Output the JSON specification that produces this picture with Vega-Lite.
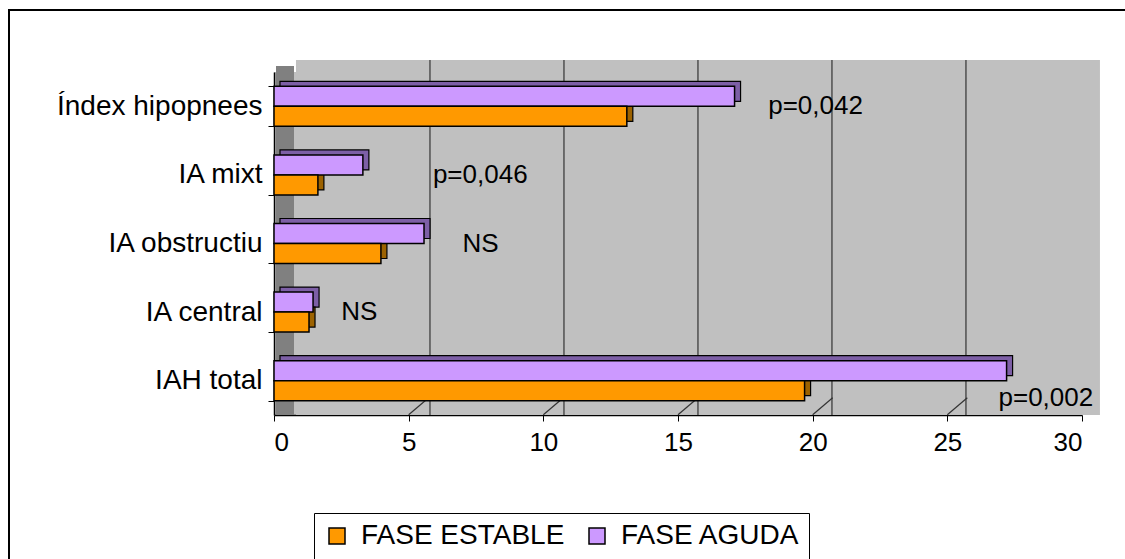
{
  "$schema": "https://vega.github.io/schema/vega-lite/v6.json",
  "width": 808,
  "height": 343,
  "autosize": {"type": "none"},
  "padding": {"left": 274, "top": 72, "right": 43, "bottom": 144},
  "background": "white",
  "config": {
    "view": {"fill": "#c0c0c0", "stroke": null},
    "font": "Liberation Sans",
    "axisY": {"title": null, "labelFontSize": 28, "labelLimit": 0, "labelColor": "black", "labelFont": "Liberation Sans", "domainColor": "black", "domainWidth": 1.5, "tickColor": "black", "tickSize": 6, "labelPadding": 6, "tickBand": "extent", "grid": false},
    "axisX": {"title": null, "labelFontSize": 26, "labelColor": "black", "labelFont": "Liberation Sans", "domainColor": "black", "domainWidth": 1.5, "tickColor": "black", "tickSize": 6, "labelPadding": 8, "grid": false}
  },
  "datasets": {
    "bars": [
      {"category": "Índex hipopnees", "series": "FASE AGUDA", "value": 17.1},
      {"category": "Índex hipopnees", "series": "FASE ESTABLE", "value": 13.1},
      {"category": "IA mixt", "series": "FASE AGUDA", "value": 3.3},
      {"category": "IA mixt", "series": "FASE ESTABLE", "value": 1.63},
      {"category": "IA obstructiu", "series": "FASE AGUDA", "value": 5.57},
      {"category": "IA obstructiu", "series": "FASE ESTABLE", "value": 3.97},
      {"category": "IA central", "series": "FASE AGUDA", "value": 1.45},
      {"category": "IA central", "series": "FASE ESTABLE", "value": 1.3},
      {"category": "IAH total", "series": "FASE AGUDA", "value": 27.2},
      {"category": "IAH total", "series": "FASE ESTABLE", "value": 19.7}
    ],
    "grid": [{"v": 5}, {"v": 10}, {"v": 15}, {"v": 20}, {"v": 25}],
    "notes": [
      {"category": "Índex hipopnees", "label": "p=0,042", "x": 18.35},
      {"category": "IA mixt", "label": "p=0,046", "x": 5.9},
      {"category": "IA obstructiu", "label": "NS", "x": 7.0},
      {"category": "IA central", "label": "NS", "x": 2.5}
    ],
    "notes2": [
      {"category": "IAH total", "label": "p=0,002", "x": 26.9}
    ]
  },
  "resolve": {"scale": {"x": "independent"}},
  "layer": [
    {
      "layer": [
        {
          "data": {"values": [{}]},
          "mark": {"type": "rect", "fill": "#c0c0c0", "yOffset": -12},
          "encoding": {
            "x": {"datum": 0, "type": "quantitative", "scale": {"domain": [-0.82, 29.33], "nice": false, "zero": false}, "axis": null},
            "x2": {"datum": 30}
          }
        },
        {
          "data": {"name": "grid"},
          "mark": {"type": "rule", "color": "#333333", "strokeWidth": 1.2, "yOffset": -12, "y2Offset": -16},
          "encoding": {"x": {"field": "v", "type": "quantitative"}}
        }
      ]
    },
    {
      "resolve": {"scale": {"yOffset": "independent"}},
      "layer": [
        {
          "data": {"values": [{}]},
          "mark": {"type": "rule", "color": "black", "strokeWidth": 2, "xOffset": -265, "x2Offset": 100, "yOffset": -233.5},
          "encoding": {
            "x": {"datum": 0, "type": "quantitative"},
            "x2": {"datum": 30}
          }
        },
        {
          "data": {"values": [{}]},
          "mark": {"type": "rule", "color": "black", "strokeWidth": 2, "xOffset": -265, "x2Offset": -265, "yOffset": -97.3, "y2Offset": 200},
          "encoding": {
            "x": {"datum": 0, "type": "quantitative"},
            "x2": {"datum": 0},
            "y": {"datum": "Índex hipopnees", "type": "nominal"},
            "y2": {"datum": "IAH total"}
          }
        },
        {
          "data": {"values": [{}]},
          "mark": {"type": "rect", "fill": "#808080", "xOffset": 2, "x2Offset": 20, "yOffset": -6},
          "encoding": {
            "x": {"datum": 0, "type": "quantitative"},
            "x2": {"datum": 0}
          }
        },
        {
          "data": {"name": "grid"},
          "mark": {"type": "rule", "color": "#333333", "strokeWidth": 1.2, "yOffset": 34, "y2Offset": 17, "x2Offset": 20},
          "encoding": {
            "x": {"field": "v", "type": "quantitative"},
            "x2": {"field": "v"},
            "y": {"datum": "IAH total", "type": "nominal"},
            "y2": {"datum": "IAH total"}
          }
        },
        {
          "data": {"name": "bars"},
          "mark": {"type": "bar", "xOffset": 6, "x2Offset": 6, "stroke": "black", "strokeWidth": 1.2},
          "encoding": {
            "y": {"field": "category", "type": "nominal", "scale": {"domain": ["Índex hipopnees", "IA mixt", "IA obstructiu", "IA central", "IAH total"], "paddingInner": 0.417, "paddingOuter": 0.2085}},
            "x": {"field": "value", "type": "quantitative", "scale": {"domain": [0, 30], "nice": false}, "axis": {"values": [0, 5, 10, 15, 20, 25, 30], "orient": "bottom"}},
            "yOffset": {"field": "series", "type": "nominal", "scale": {"domain": ["FASE AGUDA", "FASE ESTABLE"], "range": [-5, 35]}},
            "fill": {"condition": {"test": "datum.series === 'FASE AGUDA'", "value": "#7d5fa6"}, "value": "#9c6200"}
          }
        },
        {
          "data": {"name": "bars"},
          "mark": {"type": "bar", "stroke": "black", "strokeWidth": 1.5},
          "encoding": {
            "y": {"field": "category", "type": "nominal", "scale": {"domain": ["Índex hipopnees", "IA mixt", "IA obstructiu", "IA central", "IAH total"], "paddingInner": 0.417, "paddingOuter": 0.2085}},
            "x": {"field": "value", "type": "quantitative", "scale": {"domain": [0, 30], "nice": false}, "axis": {"values": [0, 5, 10, 15, 20, 25, 30], "orient": "bottom"}},
            "yOffset": {"field": "series", "type": "nominal", "scale": {"domain": ["FASE AGUDA", "FASE ESTABLE"], "range": [0, 40]}},
            "color": {
              "field": "series", "type": "nominal",
              "scale": {"domain": ["FASE ESTABLE", "FASE AGUDA"], "range": ["#ff9900", "#cc99ff"]},
              "legend": {"orient": "none", "legendX": 40, "legendY": 441, "direction": "horizontal", "columns": 2, "title": null, "labelFontSize": 28, "labelLimit": 0, "labelFont": "Liberation Sans", "labelColor": "black", "symbolType": "square", "symbolSize": 256, "symbolStrokeColor": "black", "symbolStrokeWidth": 1.5, "columnPadding": 18, "labelOffset": 10, "padding": 9, "strokeColor": "black", "fillColor": "white"}
            }
          }
        },
        {
          "data": {"name": "notes"},
          "mark": {"type": "text", "align": "left", "baseline": "middle", "fontSize": 26, "font": "Liberation Sans", "color": "black"},
          "encoding": {
            "y": {"field": "category", "type": "nominal"},
            "x": {"field": "x", "type": "quantitative"},
            "text": {"field": "label"}
          }
        },
        {
          "data": {"name": "notes2"},
          "mark": {"type": "text", "align": "left", "baseline": "middle", "fontSize": 26, "font": "Liberation Sans", "color": "black", "dy": 17},
          "encoding": {
            "y": {"field": "category", "type": "nominal"},
            "x": {"field": "x", "type": "quantitative"},
            "text": {"field": "label"}
          }
        }
      ]
    }
  ]
}
